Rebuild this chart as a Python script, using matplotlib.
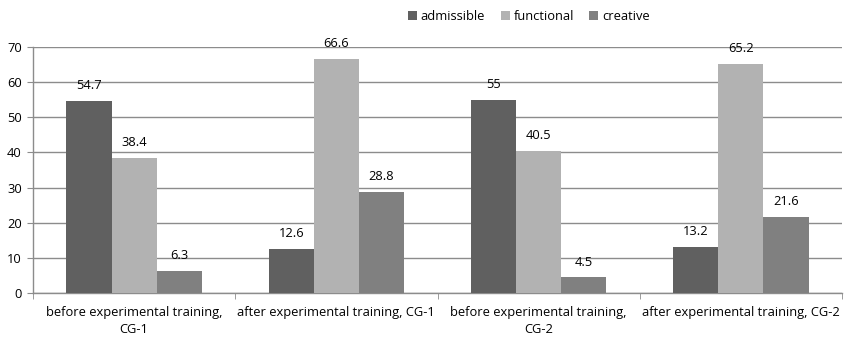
import numpy as np
import matplotlib.pyplot as plt

# --- data ---
categories = [
    "before experimental training,\nCG-1",
    "after experimental training, CG-1",
    "before experimental training,\nCG-2",
    "after experimental training, CG-2",
]
series_names = ["admissible", "functional", "creative"]
admissible = [54.7, 12.6, 55, 13.2]
functional = [38.4, 66.6, 40.5, 65.2]
creative = [6.3, 28.8, 4.5, 21.6]

colors = ["#606060", "#b2b2b2", "#808080"]
grid_color = "#8c8c8c"

plt.rcParams["font.family"] = ["Open Sans", "DejaVu Sans"]

fig = plt.figure(figsize=(8.52, 3.44), dpi=100)
ax = fig.add_axes([0.0387, 0.148, 0.9496, 0.716])

x = np.arange(len(categories))
width = 0.223
for i, (name, vals, col) in enumerate(zip(series_names, [admissible, functional, creative], colors)):
    pos = x + (i - 1) * width
    bars = ax.bar(pos, vals, width=width, color=col, label=name, zorder=3)
    for b, v in zip(bars, vals):
        ax.text(b.get_x() + b.get_width() / 2, v + 4.3, f"{v:g}",
                ha="center", va="center", fontsize=9.3, color="#000000")

ax.set_xlim(-0.5, len(categories) - 0.5)
ax.set_ylim(0, 70)
ax.set_yticks(range(0, 71, 10))
ax.yaxis.grid(True, color=grid_color, linewidth=1, zorder=0)
ax.set_axisbelow(True)

# category labels centered, ticks at the boundaries
ax.set_xticks(x)
ax.set_xticklabels(categories, fontsize=9.3, linespacing=1.45)
ax.tick_params(axis="x", length=0, pad=9)
ax.set_xticks(np.arange(-0.5, len(categories)), minor=True)
ax.tick_params(axis="x", which="minor", length=4, color=grid_color, direction="out")
ax.tick_params(axis="y", length=4, color=grid_color, labelsize=9.3, pad=4)

for s in ["top", "right"]:
    ax.spines[s].set_visible(False)
for s in ["left", "bottom"]:
    ax.spines[s].set_color(grid_color)
    ax.spines[s].set_linewidth(1)

ax.legend(loc="lower center", bbox_to_anchor=(0.613, 1.075), ncol=3, frameon=False,
          fontsize=9.3, handlelength=0.7, handleheight=0.7, handletextpad=0.3,
          columnspacing=1.2, borderaxespad=0)

fig.savefig("out.png", dpi=100)
